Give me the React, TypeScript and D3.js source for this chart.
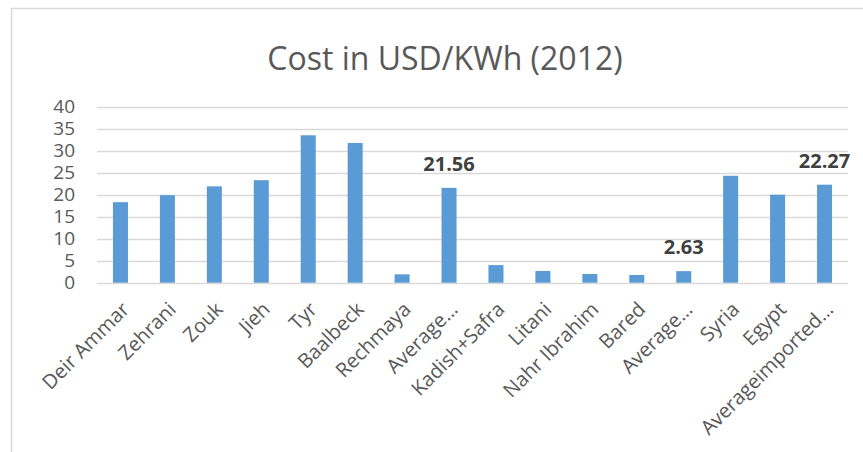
import { useRef, useEffect } from "react";
import * as d3 from "d3";

const categories = [
  "Deir Ammar",
  "Zehrani",
  "Zouk",
  "Jieh",
  "Tyr",
  "Baalbeck",
  "Rechmaya",
  "Average…",
  "Kadish+Safra",
  "Litani",
  "Nahr Ibrahim",
  "Bared",
  "Average… ",
  "Syria",
  "Egypt",
  "Averageimported…",
];
const values = [18.3, 19.9, 21.9, 23.3, 33.5, 31.75, 1.9, 21.56, 4.0, 2.66, 1.98, 1.75, 2.63, 24.3, 20.0, 22.27];
const labelled = ["Average…", "Average… ", "Averageimported…"];
const yTicks = [0, 5, 10, 15, 20, 25, 30, 35, 40];

const width = 863;
const height = 452;
const FONT = "'Open Sans', 'Noto Sans', sans-serif";

export default function App() {
  const ref = useRef<SVGSVGElement | null>(null);

  useEffect(() => {
    const svg = d3.select(ref.current);
    svg.selectAll("*").remove();

    svg.append("rect").attr("width", width).attr("height", height).attr("fill", "#fff");

    // chart frame (only top and left edges are visible)
    svg
      .append("path")
      .attr("d", `M11.5,${height} L11.5,8.5 L${width},8.5`)
      .attr("fill", "none")
      .attr("stroke", "#d9d9d9")
      .attr("stroke-width", 1.5);

    svg
      .append("text")
      .attr("x", 445)
      .attr("y", 70)
      .attr("text-anchor", "middle")
      .attr("font-family", FONT)
      .attr("font-size", 32)
      .attr("fill", "#595959")
      .text("Cost in USD/KWh (2012)");

    const x = d3.scaleBand<string>().domain(categories).range([97, 848]).paddingInner(0.68).paddingOuter(0.34);
    const y = d3.scaleLinear().domain([0, 40]).range([282.7, 106.7]);

    svg
      .append("g")
      .selectAll("line")
      .data(yTicks)
      .join("line")
      .attr("x1", 97)
      .attr("x2", 848)
      .attr("y1", (d) => Math.round(y(d)) + 0.5)
      .attr("y2", (d) => Math.round(y(d)) + 0.5)
      .attr("stroke", "#d9d9d9")
      .attr("stroke-width", 1.5);

    svg
      .append("g")
      .selectAll("text")
      .data(yTicks)
      .join("text")
      .attr("x", 75)
      .attr("y", (d) => y(d))
      .attr("dy", "0.35em")
      .attr("text-anchor", "end")
      .attr("font-family", FONT)
      .attr("font-size", 19)
      .attr("fill", "#595959")
      .text((d) => d);

    svg
      .append("g")
      .selectAll("rect")
      .data(values)
      .join("rect")
      .attr("x", (_, i) => x(categories[i])!)
      .attr("width", x.bandwidth())
      .attr("y", (d) => y(d))
      .attr("height", (d) => y(0) - y(d))
      .attr("fill", "#5b9bd5");

    svg
      .append("g")
      .selectAll("text")
      .data(values.map((v, i) => ({ v, c: categories[i] })).filter((d) => labelled.includes(d.c)))
      .join("text")
      .attr("x", (d) => x(d.c)! + x.bandwidth() / 2)
      .attr("y", (d) => y(d.v) - 17)
      .attr("text-anchor", "middle")
      .attr("font-family", FONT)
      .attr("font-size", 20)
      .attr("font-weight", "bold")
      .attr("fill", "#404040")
      .text((d) => d.v.toFixed(2));

    svg
      .append("g")
      .selectAll("text")
      .data(categories)
      .join("text")
      .attr("transform", (d) => `translate(${x(d)! + x.bandwidth() / 2 + 5},${y(0) + 23}) rotate(-45)`)
      .attr("text-anchor", "end")
      .attr("dy", "0.35em")
      .attr("font-family", FONT)
      .attr("font-size", 20)
      .attr("fill", "#595959")
      .text((d) => d.trim());
  }, []);

  return (
    <svg
      ref={ref}
      width={width}
      height={height}
      style={{ position: "absolute", left: 0, top: 0 }}
    />
  );
}
